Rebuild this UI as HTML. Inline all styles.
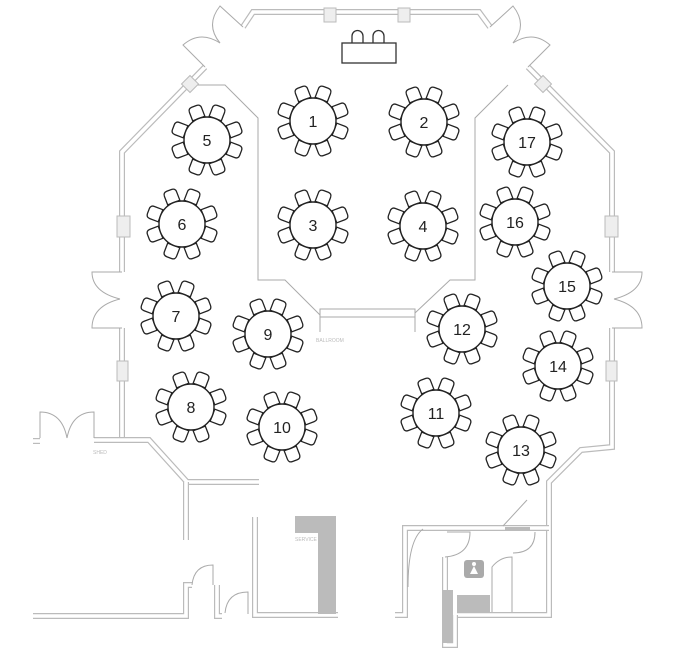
<!DOCTYPE html>
<html><head><meta charset="utf-8"><style>
html,body{margin:0;padding:0;background:#fff;}
svg{display:block;}
text{font-family:"Liberation Sans",sans-serif;}
</style></head><body>
<svg id="s" width="678" height="660" viewBox="0 0 678 660" xmlns="http://www.w3.org/2000/svg">
<g id="walls" fill="none" stroke-linejoin="miter"></g>
<g id="thin" fill="none" stroke="#aaa" stroke-width="1">
  <polyline points="190,85 225,85 258,118 258,280 285,280 320,315 320,332"/>
  <polyline points="508,85 475,118 475,280 450,280 415,313 415,332"/>
  <rect x="320" y="309" width="95" height="8" fill="#fff"/>
  <path d="M243,27 L220,6 Q205,25 220,43"/>
  <path d="M205,67 L183,45 Q200,30 220,43"/>
  <path d="M490,27 L513,6 Q528,25 513,43"/>
  <path d="M528,67 L550,45 Q533,30 513,43"/>
  <path d="M122,272 L92,272 Q92,292 120,299"/>
  <path d="M122,328 L92,328 Q92,306 120,299"/>
  <path d="M612,272 L642,272 Q642,292 614,299"/>
  <path d="M612,328 L642,328 Q642,306 614,299"/>
  <path d="M40,438 L40,412 Q62,412 67,438"/>
  <path d="M94,438 L94,412 Q72,412 67,438"/>
  <path d="M192,585 Q194,565 213,565 L213,585"/>
  <path d="M225,613 Q227,592 248,592 L248,614"/>
  <line x1="527" y1="500" x2="503" y2="526"/>
  <path d="M423,529 Q408,540 408,587"/>
  <path d="M447,532 L470,532 Q470,555 445,557"/>
  <path d="M535,532 Q535,553 513,553"/>
  <path d="M492,612 L492,567 Q500,557 512,557 L512,612"/>
</g>
<g fill="#eee" stroke="#bbb" stroke-width="1">
  <rect x="324" y="8" width="12" height="14"/>
  <rect x="398" y="8" width="12" height="14"/>
  <rect x="117" y="216" width="13" height="21"/>
  <rect x="605" y="216" width="13" height="21"/>
  <rect x="117" y="361" width="11" height="20"/>
  <rect x="606" y="361" width="11" height="20"/>
  <rect x="184" y="78" width="12" height="12" transform="rotate(45 190 84)"/>
  <rect x="537" y="78" width="12" height="12" transform="rotate(45 543 84)"/>
</g>
<g fill="#bbb">
  <rect x="295" y="516" width="41" height="17"/>
  <rect x="318" y="516" width="18" height="98"/>
  <rect x="443" y="590" width="10" height="53"/>
  <rect x="457" y="595" width="33" height="17"/>
  <rect x="505" y="527" width="25" height="3"/>
</g>
<rect x="464" y="560" width="20" height="18" rx="3" fill="#aaa"/>
<circle cx="474" cy="564" r="2" fill="#fff"/>
<path d="M474,566 L470,574 L478,574 Z" fill="#fff"/>
<g fill="#fff" stroke="#333" stroke-width="1.3">
  <path d="M352,43 L352,36 A5.5,5.5 0 0 1 363,36 L363,43"/>
  <path d="M373,43 L373,36 A5.5,5.5 0 0 1 384,36 L384,43"/>
  <rect x="342" y="43" width="54" height="20"/>
</g>
<g id="tables"></g>
<g fill="#bbb" font-size="5">
  <text x="316" y="342">BALLROOM</text>
  <text x="93" y="454">SHED</text>
  <text x="295" y="541">SERVICE</text>
</g>
<script>
var NS="http://www.w3.org/2000/svg";
function el(t,a,p){var e=document.createElementNS(NS,t);for(var k in a)e.setAttribute(k,a[k]);p.appendChild(e);return e;}
var W=document.getElementById("walls");
var walls=[
 [[243,27],[253,12],[479,12],[490,27]],
 [[205,67],[122,152],[122,272]],
 [[528,67],[612,152],[612,272]],
 [[122,328],[122,440]],
 [[612,328],[612,447],[581,450],[549,482],[549,615],[457,615]],
 [[94,440],[149,440],[187,482],[259,482]],
 [[186,482],[186,540]],
 [[255,517],[255,615],[338,615]],
 [[33,441],[40,441]],
 [[33,616],[186,616],[186,585],[192,585]],
 [[217,585],[217,616],[222,616]],
 [[395,615],[405,615],[405,528],[549,528]],
 [[445,557],[445,645],[455,645],[455,615]]
];
walls.forEach(function(w){var p=w.map(function(q){return q.join(",");}).join(" ");
 el("polyline",{points:p,stroke:"#bbb","stroke-width":"6"},W);
 el("polyline",{points:p,stroke:"#fff","stroke-width":"3.6"},W);});
var T=document.getElementById("tables");
var tabs=[[1,313,121],[2,424,122],[3,313,225],[4,423,226],[5,207,140],[6,182,224],[7,176,316],[8,191,407],[9,268,334],[10,282,427],[11,436,413],[12,462,329],[13,521,450],[14,558,366],[15,567,286],[16,515,222],[17,527,142]];
var angs=[21,69,111,159,201,249,291,339];
tabs.forEach(function(t){
 var g=el("g",{transform:"translate("+t[1]+","+t[2]+")"},T);
 angs.forEach(function(a){
  el("path",{d:"M-6.5,6 L-6.5,-3 Q-6.5,-7 -2.5,-7 L2.5,-7 Q6.5,-7 6.5,-3 L6.5,6 Z",transform:"rotate("+a+") translate(0,-29)",fill:"#fff",stroke:"#222","stroke-width":"1.3"},g);});
 el("circle",{cx:0,cy:0,r:23,fill:"#fff",stroke:"#222","stroke-width":"1.4"},g);
 var tx=el("text",{x:0,y:6,"text-anchor":"middle","font-size":"16",fill:"#222"},g);tx.textContent=t[0];
});
</script>
</svg>
</body></html>
